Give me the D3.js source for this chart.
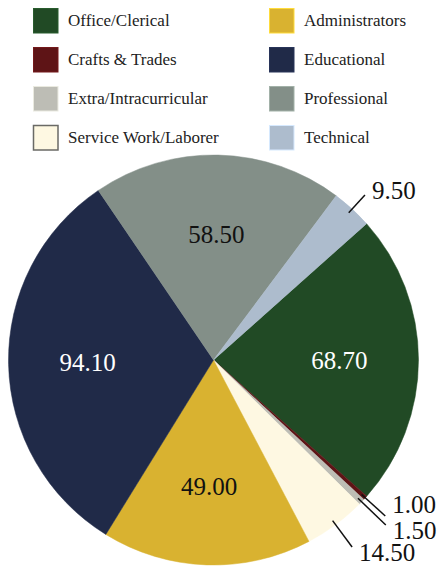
<!DOCTYPE html>
<html>
<head>
<meta charset="utf-8">
<script src="https://cdn.jsdelivr.net/npm/d3@7"></script>
<style>
  html, body { margin: 0; padding: 0; background: #fff; }
  svg { display: block; }
  svg text { font-family: "Liberation Serif", "Times New Roman", Times, serif; }
</style>
</head>
<body>
<svg id="chart" width="442" height="567"></svg>
<script>
const categories = ["Office/Clerical", "Crafts & Trades", "Extra/Intracurricular", "Service Work/Laborer",
                    "Administrators", "Educational", "Professional", "Technical"];
const values = [68.70, 1.00, 1.50, 14.50, 49.00, 94.10, 58.50, 9.50];
const colors = ["#214a25", "#5e1416", "#bdbdb5", "#fef8e2", "#d9b230", "#202a48", "#838f88", "#adbccd"];
const labelColors = ["#fff", "#111", "#111", "#111", "#111", "#fff", "#111", "#111"];
const legendOrder = [[0, 4], [1, 5], [2, 6], [3, 7]];

const data = categories.map((c, i) => ({ name: c, value: values[i], color: colors[i], lc: labelColors[i] }));

const svg = d3.select("#chart");
const cx = 213.5, cy = 360, R = 205;

// Legend
const legend = svg.append("g");
const rowY = d3.scaleLinear().domain([0, 3]).range([20.5, 137.5]);
const colX = [33, 269];
legendOrder.forEach((row, r) => {
  row.forEach((idx, c) => {
    const g = legend.append("g").attr("transform", `translate(${colX[c]},${rowY(r)})`);
    g.append("rect")
      .attr("x", 0.5).attr("y", -12)
      .attr("width", 24.5).attr("height", 24.5)
      .attr("fill", colors[idx])
      .attr("stroke", idx === 3 ? "#6a6a66" : d3.color(colors[idx]).brighter(0.6))
      .attr("stroke-width", idx === 3 ? 1.5 : 1);
    g.append("text")
      .attr("x", 35).attr("y", 0).attr("dy", "0.35em")
      .style("font-size", "17px")
      .attr("fill", "#222")
      .text(categories[idx]);
  });
});

// Pie
const start = 48.3 * Math.PI / 180;
const pie = d3.pie().sort(null).value(d => d.value).startAngle(start).endAngle(start + 2 * Math.PI);
const arcs = pie(data);
const arc = d3.arc().innerRadius(0).outerRadius(R);
const g = svg.append("g").attr("transform", `translate(${cx},${cy})`);

g.selectAll("path").data(arcs).enter().append("path")
  .attr("d", arc)
  .attr("fill", d => d.data.color)
  .attr("stroke", d => d.data.color)
  .attr("stroke-width", 0.5);

const total = d3.sum(values);
const inside = arcs.filter(d => d.data.value / total >= 0.08);
const outside = arcs.filter(d => d.data.value / total < 0.08);

const labelArc = d3.arc().innerRadius(126).outerRadius(126);
g.selectAll("text.in").data(inside).enter().append("text")
  .attr("class", "in")
  .attr("transform", d => `translate(${labelArc.centroid(d)})`)
  .attr("text-anchor", "middle").attr("dy", "0.35em")
  .style("font-size", "25px")
  .attr("fill", d => d.data.lc)
  .text(d => d.data.value.toFixed(2));

// Outside labels with simple stacking (kept inside the canvas)
const pt = (a, r) => [r * Math.sin(a), -r * Math.cos(a)];
const maxTy = 567 - cy - 15;
let prevY = -Infinity;
outside.sort((a, b) => (a.startAngle + a.endAngle) - (b.startAngle + b.endAngle)).forEach(d => {
  const a = (d.startAngle + d.endAngle) / 2;
  const s = pt(a, 200);
  let e, ty;
  if (Math.cos(a) >= 0) {
    e = pt(a, 224);
    ty = e[1] - 5;
  } else {
    const e0 = pt(a, 232);
    ty = Math.min(maxTy, Math.max(e0[1] - 12, prevY + 26));
    prevY = ty;
    const re = Math.max(232, (ty - 5) / (-Math.cos(a)));
    e = pt(a, re);
  }
  g.append("line")
    .attr("x1", s[0]).attr("y1", s[1]).attr("x2", e[0]).attr("y2", e[1])
    .attr("stroke", "#111").attr("stroke-width", 1.5);
  g.append("text")
    .attr("x", e[0] + 7).attr("y", ty).attr("dy", "0.35em")
    .style("font-size", "25px")
    .attr("fill", "#111")
    .text(d.data.value.toFixed(2));
});
</script>
</body>
</html>
